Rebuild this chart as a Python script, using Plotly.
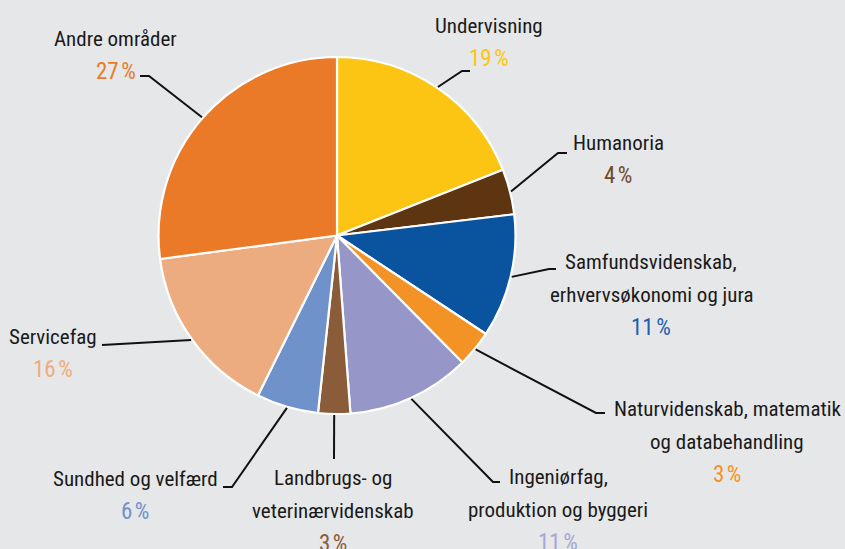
import math
import plotly.graph_objects as go

# ---- data ----
categories = [
    "Undervisning",
    "Humanoria",
    "Samfundsvidenskab,<br>erhvervsøkonomi og jura",
    "Naturvidenskab, matematik<br>og databehandling",
    "Ingeniørfag,<br>produktion og byggeri",
    "Landbrugs- og<br>veterinærvidenskab",
    "Sundhed og velfærd",
    "Servicefag",
    "Andre områder",
]
values = [19.0, 4.1, 11.2, 3.3, 11.2, 2.9, 5.6, 15.6, 27.1]
slice_colors = ["#FDC513", "#5E3511", "#0A539E", "#F39325", "#9696C9",
                "#8A5C3A", "#7092CA", "#EDAC7F", "#EB7A28"]
pct_colors = ["#FDC513", "#6E4A2A", "#1F5FAE", "#F39325", "#A6A6D6",
              "#8A5C3A", "#7092CA", "#EDAC7F", "#EB7A28"]

# ---- layout constants (pixels) ----
W, H = 845, 549
CX, CY, R = 337.0, 235.5, 178.5
# label centre x, first-line y
label_pos = [(489, 26), (618, 143), (651, 262), (727, 409), (558, 477),
             (333, 478), (135, 479), (53, 337), (116, 39)]
LINE_STEP = 32.5
# leader line: elbow point, end point
leader = [((462, 71), (470, 71)), ((558, 153), (567, 153)),
          ((549, 269), (556, 269)), ((596, 413), (605, 413)),
          ((493, 482), (500, 482)), ((334, 459), (334, 459)),
          ((232, 487), (223, 487)), ((102, 345), (102, 345)),
          ((149, 76), (140, 76))]

FONT = "Roboto Condensed, DejaVu Sans Condensed, sans-serif"


def px(x):
    return x / W


def py(y):
    return 1 - y / H


fig = go.Figure(go.Pie(
    labels=[c.replace("<br>", " ") for c in categories],
    values=values,
    sort=False,
    direction="clockwise",
    rotation=0,
    marker=dict(colors=slice_colors, line=dict(color="white", width=2.2)),
    textinfo="none",
    hoverinfo="label+percent",
    showlegend=False,
    domain=dict(x=[px(CX - R), px(CX + R)], y=[py(CY + R), py(CY - R)]),
))

total = sum(values)
cum = 0.0
shapes = []
annotations = []
for i, v in enumerate(values):
    mid = (cum + v / 2) / total * 2 * math.pi
    cum += v
    ex = CX + (R + 1) * math.sin(mid)
    ey = CY - (R + 1) * math.cos(mid)
    (bx, by), (fx, fy) = leader[i]
    path = f"M {px(ex)},{py(ey)} L {px(bx)},{py(by)} L {px(fx)},{py(fy)}"
    shapes.append(dict(type="path", xref="paper", yref="paper", path=path,
                       line=dict(color="#111111", width=2)))
    lx, ly = label_pos[i]
    lines = categories[i].split("<br>")
    pct = f"{round(v)}\u200a%"
    for j, t in enumerate(lines + [pct]):
        is_pct = j == len(lines)
        annotations.append(dict(
            x=px(lx), y=py(ly + j * LINE_STEP), xref="paper", yref="paper",
            text=t, showarrow=False, xanchor="center", yanchor="middle",
            font=dict(family=FONT, size=23 if is_pct else 21,
                      color=pct_colors[i] if is_pct else "#1A1A1A"),
        ))

fig.update_layout(
    width=W, height=H,
    margin=dict(l=0, r=0, t=0, b=0),
    paper_bgcolor="#E6E7E8",
    plot_bgcolor="#E6E7E8",
    shapes=shapes,
    annotations=annotations,
)

fig.write_html("out.html", config={"displayModeBar": False},
               post_script="document.body.style.margin='0';")
